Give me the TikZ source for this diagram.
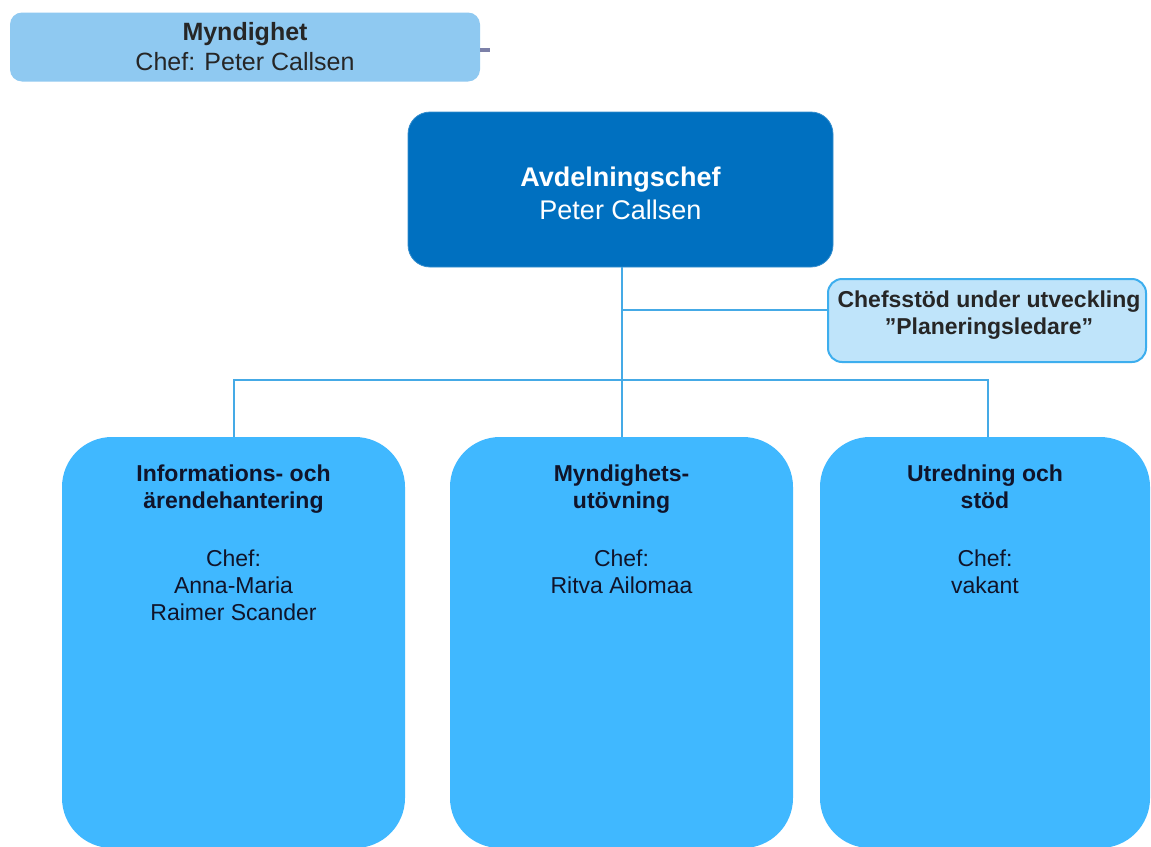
\documentclass[tikz,border=0pt]{standalone}
\usepackage{fontspec}
\setmainfont{Liberation Sans}
\definecolor{topfill}{HTML}{8FC9F1}
\definecolor{avdfill}{HTML}{0070C0}
\definecolor{supfill}{HTML}{BFE4FA}
\definecolor{supline}{HTML}{3DAEEE}
\definecolor{unitfill}{HTML}{40B8FF}
\definecolor{conn}{HTML}{45AAE6}
\definecolor{stubcol}{HTML}{7C80A8}
\definecolor{darktext}{HTML}{262626}
\definecolor{navytext}{HTML}{10142A}
\begin{document}
\begin{tikzpicture}[x=1pt,y=-1pt,
  topbox/.style={fill=topfill,rounded corners=12pt,minimum width=470pt,minimum height=69pt,inner sep=0pt,align=center,text=darktext,font=\fontsize{25}{30}\selectfont},
  avdbox/.style={fill=avdfill,draw=avdfill!80!white,line width=0.8pt,rounded corners=22pt,minimum width=425pt,minimum height=155pt,inner sep=0pt},
  avdtext/.style={align=center,text=white,font=\fontsize{27}{33}\selectfont,inner sep=0pt},
  supbox/.style={fill=supfill,draw=supline,line width=2pt,rounded corners=14pt,minimum width=318pt,minimum height=83pt,inner sep=0pt},
  suptext/.style={align=center,text=darktext,font=\bfseries\fontsize{23}{27}\selectfont,inner sep=0pt},
  unitbox/.style={fill=unitfill,rounded corners=50pt,minimum height=411pt,inner sep=0pt},
  unittext/.style={anchor=north,align=center,text=navytext,font=\fontsize{23}{27}\selectfont,inner sep=0pt},
  connector/.style={draw=conn,line width=2pt}]
\clip (0,0) rectangle (1151,846);
\fill[white] (0,0) rectangle (1151,846);

% top-left box with stub
\node[topbox] (myn) at (245,47) {\textbf{Myndighet}\\Chef: Peter Callsen};
\coordinate (stubend) at (490,50);
\draw[stubcol,line width=4pt] (myn.east |- stubend) -- (stubend);

% head
\node[avdbox] (avd) at (620.5,189.5) {};
\node[avdtext] (avdtxt) at (620.5,193) {\textbf{Avdelningschef}\\Peter Callsen};

% support
\node[supbox] (sup) at (987,320.5) {};
\node[suptext] (suptxt) at (989,315) {Chefsstöd under utveckling\\\textquotedblright Planeringsledare\textquotedblright};

% units
\node[unitbox,minimum width=343pt] (u1) at (233.5,642.5) {};
\node[unitbox,minimum width=343pt] (u2) at (621.5,642.5) {};
\node[unitbox,minimum width=330pt] (u3) at (985,642.5) {};

\node[unittext] (t1) at (233.5,465) {\textbf{Informations- och}\\\textbf{ärendehantering}\\[31pt]Chef:\\Anna-Maria\\Raimer Scander};
\node[unittext] (t2) at (621.5,465) {\textbf{Myndighets-}\\\textbf{utövning}\\[31pt]Chef:\\Ritva Ailomaa};
\node[unittext] (t3) at (985,465) {\textbf{Utredning och}\\\textbf{stöd}\\[31pt]Chef:\\vakant};

% connectors
\coordinate (trunk) at (622,380);
\coordinate (branch) at (622,310);
\draw[connector] (avd.south -| trunk) -- (trunk);
\draw[connector] (branch) -- (sup.west |- branch);
\draw[connector] (u1.north -| 234,0) -- (234,380) -- (988,380) -- (u3.north -| 988,0);
\draw[connector] (trunk) -- (u2.north -| trunk);
\end{tikzpicture}
\end{document}
